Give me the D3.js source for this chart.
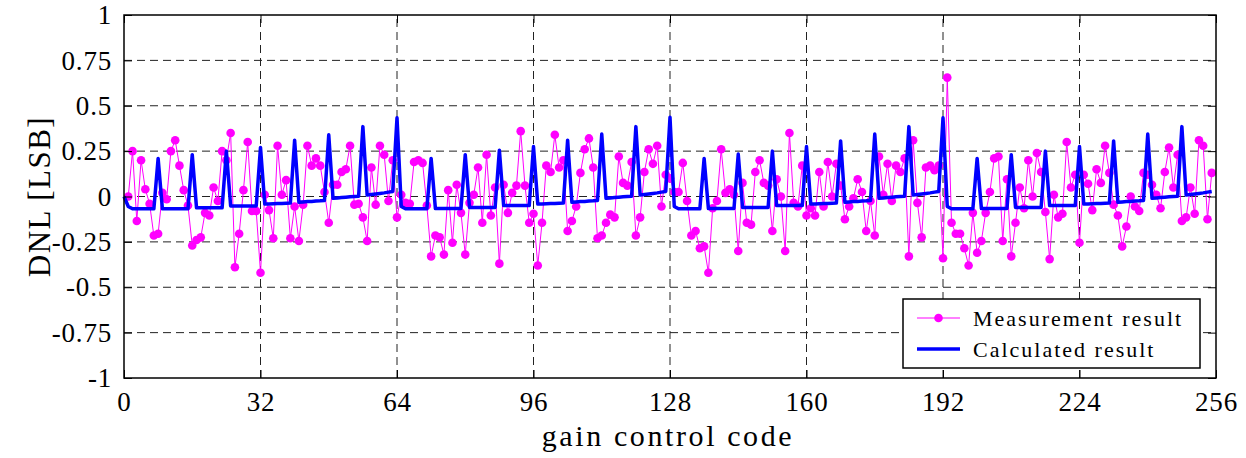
<!DOCTYPE html>
<html>
<head>
<meta charset="utf-8">
<script src="https://cdn.jsdelivr.net/npm/d3@7"></script>
<style>
  html, body { margin: 0; padding: 0; background: #fff; }
  svg { display: block; }
  text { font-family: "Liberation Serif", "Times New Roman", serif; fill: #000; }
</style>
</head>
<body>
<svg id="chart" width="1246" height="458"></svg>
<script>
// tick values
const xTicks = [0, 32, 64, 96, 128, 160, 192, 224, 256];
const yTicks = [-1, -0.75, -0.5, -0.25, 0, 0.25, 0.5, 0.75, 1];

// measured DNL, codes 1..255
const measCodes = d3.range(1, 256);
const measured = [
  0.0, 0.25, -0.135, 0.2, 0.04, -0.04, -0.215, -0.205,
  0.02, -0.015, 0.25, 0.31, 0.17, 0.035, -0.05, -0.27,
  -0.24, -0.225, -0.09, -0.105, 0.05, -0.025, 0.25, 0.2,
  0.35, -0.39, -0.205, 0.035, 0.3, -0.08, -0.08, -0.42,
  0.01, -0.075, -0.23, 0.28, 0.01, 0.09, -0.23, -0.055,
  -0.245, -0.045, 0.28, 0.17, 0.21, 0.17, 0.025, -0.145,
  0.065, 0.065, 0.135, 0.15, 0.28, -0.045, -0.04, -0.115,
  -0.245, 0.16, -0.045, 0.28, 0.23, -0.025, 0.2, -0.115,
  0.01, -0.035, -0.04, 0.19, 0.2, 0.185, -0.05, -0.33,
  -0.215, -0.225, -0.32, 0.035, -0.255, 0.065, -0.09, -0.32,
  -0.035, 0.01, 0.16, -0.145, 0.23, -0.105, 0.05, -0.37,
  0.065, -0.09, 0.02, 0.06, 0.36, 0.06, -0.145, -0.095,
  -0.38, -0.145, 0.17, 0.135, 0.34, 0.16, 0.2, -0.19,
  -0.135, -0.055, 0.13, 0.26, 0.32, 0.16, -0.23, -0.215,
  -0.145, -0.1, -0.115, 0.22, 0.075, 0.06, 0.19, -0.215,
  -0.115, 0.135, 0.26, 0.18, 0.28, -0.055, 0.12, 0.1,
  0.025, 0.025, 0.185, -0.025, -0.215, -0.19, -0.285, -0.275,
  -0.42, -0.065, -0.025, 0.26, 0.02, 0.04, 0.01, -0.3,
  0.075, -0.145, -0.155, 0.135, 0.2, 0.075, 0.06, -0.19,
  0.095, 0.0, -0.3, 0.35, -0.035, -0.055, 0.17, -0.105,
  -0.065, -0.105, 0.135, -0.055, 0.19, 0.0, 0.18, 0.06,
  -0.125, -0.055, -0.01, 0.095, 0.025, -0.19, -0.025, -0.215,
  0.22, 0.01, 0.18, -0.025, 0.17, 0.135, 0.21, -0.33,
  0.31, -0.035, -0.225, 0.16, 0.17, 0.145, 0.17, -0.34,
  0.655, -0.145, -0.205, -0.205, -0.285, -0.38, -0.09, -0.31,
  -0.245, -0.09, 0.025, 0.21, 0.22, -0.245, 0.095, -0.33,
  -0.145, 0.05, -0.065, 0.2, 0.0, 0.24, 0.135, -0.085,
  -0.345, 0.01, -0.115, -0.095, 0.3, 0.05, 0.12, -0.255,
  0.12, 0.07, -0.075, 0.15, 0.075, 0.28, 0.13, -0.045,
  -0.105, -0.275, -0.165, 0.0, -0.055, -0.08, 0.13, 0.12,
  0.065, 0.01, -0.065, 0.135, 0.27, 0.05, 0.23, -0.135,
  -0.115, 0.05, -0.095, 0.31, 0.28, -0.125, 0.13
];

// calculated DNL, codes 0..255
const calcCodes = d3.range(0, 256);
const calculated = [
  0, -0.055, -0.068, -0.068, -0.068, -0.068, -0.068, -0.068,
  0.21, -0.068, -0.068, -0.068, -0.068, -0.068, -0.068, -0.068,
  0.23, -0.062, -0.062, -0.062, -0.062, -0.062, -0.062, -0.062,
  0.25, -0.052, -0.052, -0.052, -0.052, -0.052, -0.052, -0.052,
  0.27, -0.042, -0.041, -0.04, -0.039, -0.038, -0.037, -0.036,
  0.31, -0.032, -0.03, -0.028, -0.027, -0.025, -0.024, -0.022,
  0.34, -0.01, -0.008, -0.006, -0.004, -0.002, 0, 0.002,
  0.385, 0.008, 0.011, 0.014, 0.017, 0.02, 0.024, 0.028,
  0.434, -0.055, -0.068, -0.068, -0.068, -0.068, -0.068, -0.068,
  0.21, -0.066, -0.066, -0.066, -0.066, -0.066, -0.066, -0.066,
  0.23, -0.06, -0.06, -0.06, -0.06, -0.06, -0.06, -0.06,
  0.255, -0.05, -0.05, -0.05, -0.05, -0.05, -0.05, -0.05,
  0.275, -0.042, -0.041, -0.04, -0.039, -0.038, -0.037, -0.036,
  0.31, -0.032, -0.03, -0.028, -0.027, -0.025, -0.024, -0.022,
  0.344, -0.01, -0.008, -0.006, -0.004, -0.002, 0, 0.002,
  0.385, 0.008, 0.011, 0.014, 0.017, 0.02, 0.024, 0.028,
  0.436, -0.055, -0.068, -0.068, -0.068, -0.068, -0.068, -0.068,
  0.21, -0.066, -0.066, -0.066, -0.066, -0.066, -0.066, -0.066,
  0.234, -0.06, -0.06, -0.06, -0.06, -0.06, -0.06, -0.06,
  0.25, -0.05, -0.05, -0.05, -0.05, -0.05, -0.05, -0.05,
  0.275, -0.042, -0.041, -0.04, -0.039, -0.038, -0.037, -0.036,
  0.306, -0.032, -0.03, -0.028, -0.027, -0.025, -0.024, -0.022,
  0.344, -0.01, -0.008, -0.006, -0.004, -0.002, 0, 0.002,
  0.385, 0.008, 0.011, 0.014, 0.017, 0.02, 0.024, 0.028,
  0.434, -0.055, -0.068, -0.068, -0.068, -0.068, -0.068, -0.068,
  0.21, -0.066, -0.066, -0.066, -0.066, -0.066, -0.066, -0.066,
  0.23, -0.06, -0.06, -0.06, -0.06, -0.06, -0.06, -0.06,
  0.25, -0.05, -0.05, -0.05, -0.05, -0.05, -0.05, -0.05,
  0.275, -0.042, -0.041, -0.04, -0.039, -0.038, -0.037, -0.036,
  0.306, -0.032, -0.03, -0.028, -0.027, -0.025, -0.024, -0.022,
  0.344, -0.01, -0.008, -0.006, -0.004, -0.002, 0, 0.002,
  0.385, 0.008, 0.011, 0.014, 0.017, 0.02, 0.024, 0.028
];

const svg = d3.select('#chart');
const margin = {left: 124, right: 30, top: 15, bottom: 80};
const W = 1246, H = 458;

const x = d3.scaleLinear().domain([0, 256]).range([margin.left, W - margin.right]);
const y = d3.scaleLinear().domain([-1, 1]).range([H - margin.bottom, margin.top]);

// grid
svg.append('g')
  .selectAll('line')
  .data(xTicks.slice(1, -1))
  .enter().append('line')
  .attr('x1', d => x(d)).attr('x2', d => x(d))
  .attr('y1', y(-1)).attr('y2', y(1))
  .attr('stroke', '#222').attr('stroke-width', 1)
  .attr('stroke-dasharray', '8,5');
svg.append('g')
  .selectAll('line')
  .data(yTicks.slice(1, -1))
  .enter().append('line')
  .attr('x1', x(0)).attr('x2', x(256))
  .attr('y1', d => y(d)).attr('y2', d => y(d))
  .attr('stroke', '#222').attr('stroke-width', 1)
  .attr('stroke-dasharray', '8,5');

// measured series
const meas = measCodes.map((c, i) => [c, measured[i]]);
const lineGen = d3.line().x(d => x(d[0])).y(d => y(d[1]));
svg.append('path')
  .datum(meas)
  .attr('d', lineGen)
  .attr('fill', 'none')
  .attr('stroke', '#ff00ff')
  .attr('stroke-width', 1);
svg.append('g')
  .selectAll('circle')
  .data(meas)
  .enter().append('circle')
  .attr('cx', d => x(d[0]))
  .attr('cy', d => y(d[1]))
  .attr('r', 4.3)
  .attr('fill', '#ff00ff');

// calculated series
const calc = calcCodes.map((c, i) => [c, calculated[i]]);
svg.append('path')
  .datum(calc)
  .attr('d', lineGen)
  .attr('fill', 'none')
  .attr('stroke', '#0000ff')
  .attr('stroke-width', 3.5)
  .attr('stroke-linejoin', 'round');

// axes (ticks inward, all four sides)
const tickLen = 8;
const xAxis = svg.append('g')
  .attr('transform', `translate(0,${y(-1)})`)
  .call(d3.axisBottom(x).tickValues(xTicks).tickSize(-tickLen).tickPadding(14).tickFormat(d => String(d)));
const xAxisTop = svg.append('g')
  .attr('transform', `translate(0,${y(1)})`)
  .call(d3.axisTop(x).tickValues(xTicks).tickSize(-tickLen).tickFormat(''));
const yAxis = svg.append('g')
  .attr('transform', `translate(${x(0)},0)`)
  .call(d3.axisLeft(y).tickValues(yTicks).tickSize(-tickLen).tickPadding(12).tickFormat(d => String(d)));
const yAxisRight = svg.append('g')
  .attr('transform', `translate(${x(256)},0)`)
  .call(d3.axisRight(y).tickValues(yTicks).tickSize(-tickLen).tickFormat(''));

[xAxis, xAxisTop, yAxis, yAxisRight].forEach(g => {
  g.select('.domain').remove();
  g.selectAll('.tick line').attr('stroke', '#000');
  g.selectAll('text')
    .style('font-family', '"Liberation Serif", serif')
    .style('font-size', '27px')
    .style('letter-spacing', '0.8px')
    .attr('fill', '#000');
});
xAxis.selectAll('text').attr('dy', '0.71em');

// frame
svg.append('rect')
  .attr('x', x(0)).attr('y', y(1))
  .attr('width', x(256) - x(0)).attr('height', y(-1) - y(1))
  .attr('fill', 'none').attr('stroke', '#000').attr('stroke-width', 1.5);

// axis titles
svg.append('text')
  .attr('x', (x(0) + x(256)) / 2 - 2)
  .attr('y', 446)
  .attr('text-anchor', 'middle')
  .style('font-size', '30px')
  .style('letter-spacing', '2.6px')
  .text('gain control code');
svg.append('text')
  .attr('transform', `translate(50,${y(0)}) rotate(-90)`)
  .attr('text-anchor', 'middle')
  .style('font-size', '31px')
  .style('letter-spacing', '1.5px')
  .text('DNL [LSB]');

// legend
const legend = svg.append('g');
legend.append('rect')
  .attr('x', 903).attr('y', 299).attr('width', 297).attr('height', 69)
  .attr('fill', '#fff').attr('stroke', '#000').attr('stroke-width', 1.5);
legend.append('line').attr('x1', 917).attr('x2', 960).attr('y1', 318).attr('y2', 318)
  .attr('stroke', '#ff00ff').attr('stroke-width', 1);
legend.append('circle').attr('cx', 938.5).attr('cy', 318).attr('r', 4.3).attr('fill', '#ff00ff');
legend.append('line').attr('x1', 917).attr('x2', 960).attr('y1', 349).attr('y2', 349)
  .attr('stroke', '#0000ff').attr('stroke-width', 3.5);
legend.append('text').attr('x', 973).attr('y', 326)
  .style('font-size', '22px').style('letter-spacing', '2px')
  .text('Measurement result');
legend.append('text').attr('x', 973).attr('y', 357)
  .style('font-size', '22px').style('letter-spacing', '2px')
  .text('Calculated result');
</script>
</body>
</html>
